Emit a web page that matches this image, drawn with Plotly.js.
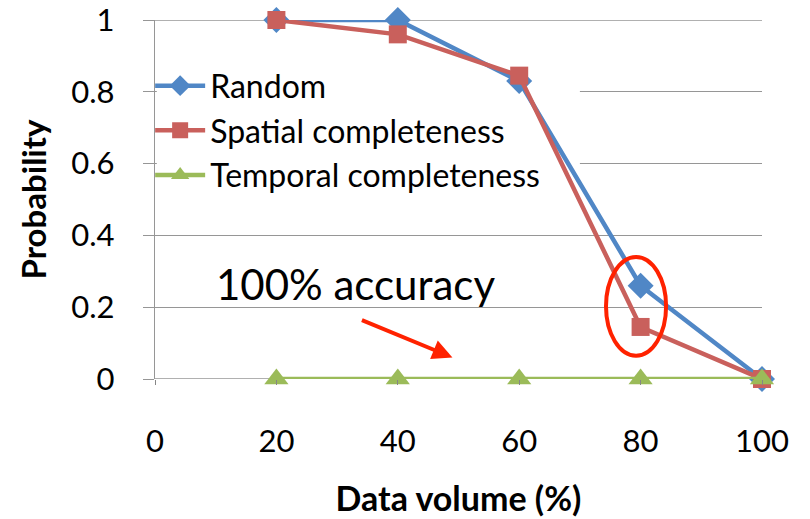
<!DOCTYPE html>
<html>
<head>
<meta charset="utf-8">
<script src="https://cdn.plot.ly/plotly-3.0.1.min.js"></script>
<style>html,body{margin:0;padding:0;background:#fff}#chart{width:810px;height:519px}</style>
</head>
<body>
<div id="chart"></div>
<script>
const dataVolume = [20, 40, 60, 80, 100];
const randomProb = [1, 1, 0.83, 0.26, 0];
const spatialProb = [1, 0.96, 0.845, 0.145, 0];
const temporalProb = [0, 0, 0, 0, 0];
const seriesNames = ["Random", "Spatial completeness", "Temporal completeness"];
const xTicks = [0, 20, 40, 60, 80, 100];
const yTicks = [0, 0.2, 0.4, 0.6, 0.8, 1];
const yTickLabels = ["0", "0.2", "0.4", "0.6", "0.8", "1"];

const FONT = "Lato, 'Open Sans', sans-serif";

const traces = [
  {x: dataVolume, y: randomProb, name: seriesNames[0], type: "scatter", mode: "lines+markers", cliponaxis: false,
   line: {color: "#5087C6", width: 4.5}, marker: {symbol: "diamond", size: 20, color: "#5087C6"}},
  {x: dataVolume, y: spatialProb, name: seriesNames[1], type: "scatter", mode: "lines+markers", cliponaxis: false,
   line: {color: "#C9605C", width: 4.5}, marker: {symbol: "square", size: 18, color: "#C9605C"}},
  {x: dataVolume, y: temporalProb, name: seriesNames[2], type: "scatter", mode: "lines+markers", cliponaxis: false,
   line: {color: "#9BBB59", width: 4.5}, marker: {symbol: "triangle-up", size: 21, color: "#9BBB59"}}
];

const layout = {
  width: 810, height: 519,
  margin: {l: 155, r: 48, t: 20, b: 140},
  paper_bgcolor: "#fff", plot_bgcolor: "#fff",
  font: {family: FONT, color: "#000", size: 31},
  showlegend: true,
  legend: {x: -0.008, y: 0.893, xanchor: "left", yanchor: "top", bgcolor: "rgba(0,0,0,0)",
           font: {family: FONT, size: 32, color: "#000"}, tracegroupgap: 0, itemwidth: 50},
  xaxis: {range: [0, 100], tickvals: xTicks, showgrid: false, zeroline: false,
          showline: false, ticks: "outside", ticklen: 5, tickcolor: "#868686",
          ticklabelstandoff: 30, tickfont: {family: FONT, size: 31}, ticklabeloverflow: "allow",
          title: {text: "<b>Data volume (%)</b>", font: {family: FONT, size: 34}, standoff: 28}},
  yaxis: {range: [0, 1], tickvals: yTicks, ticktext: yTickLabels, showgrid: true, gridcolor: "#969696",
          gridwidth: 1.3, zeroline: false, showline: true, linecolor: "#969696", linewidth: 1.3,
          ticks: "outside", ticklen: 11, tickcolor: "#969696", ticklabelstandoff: 22,
          tickfont: {family: FONT, size: 31}, ticklabeloverflow: "allow",
          title: {text: "<b>Probability</b>", font: {family: FONT, size: 33}, standoff: 14}},
  shapes: [
    {type: "line", xref: "x", yref: "y", x0: 0, x1: 100, y0: 1, y1: 1, line: {color: "#969696", width: 1.3}, layer: "between"},
    {type: "line", xref: "x", yref: "y", x0: 0, x1: 100, y0: 0, y1: 0, line: {color: "#969696", width: 1.3}, layer: "between"},
    {type: "rect", xref: "x", yref: "y", x0: 0.3, x1: 70, y0: 0.52, y1: 0.87,
     fillcolor: "#fff", line: {width: 0}, layer: "between"},
    {type: "circle", xref: "x", yref: "y", x0: 74.3, x1: 84.2, y0: 0.065, y1: 0.34,
     line: {color: "#FF2200", width: 4}, layer: "above"}
  ],
  annotations: [
    {xref: "x", yref: "y", x: 33, y: 0.265, text: "100% accuracy", showarrow: false,
     font: {family: FONT, size: 42, color: "#000"}, xanchor: "center", yanchor: "middle"},
    {xref: "x", yref: "y", x: 49, y: 0.06, ax: -92, ay: -38, text: "", showarrow: true,
     arrowhead: 2, arrowsize: 1, arrowwidth: 4, arrowcolor: "#FF2200"}
  ]
};

Plotly.newPlot("chart", traces, layout, {displayModeBar: false, staticPlot: true});
</script>
</body>
</html>
